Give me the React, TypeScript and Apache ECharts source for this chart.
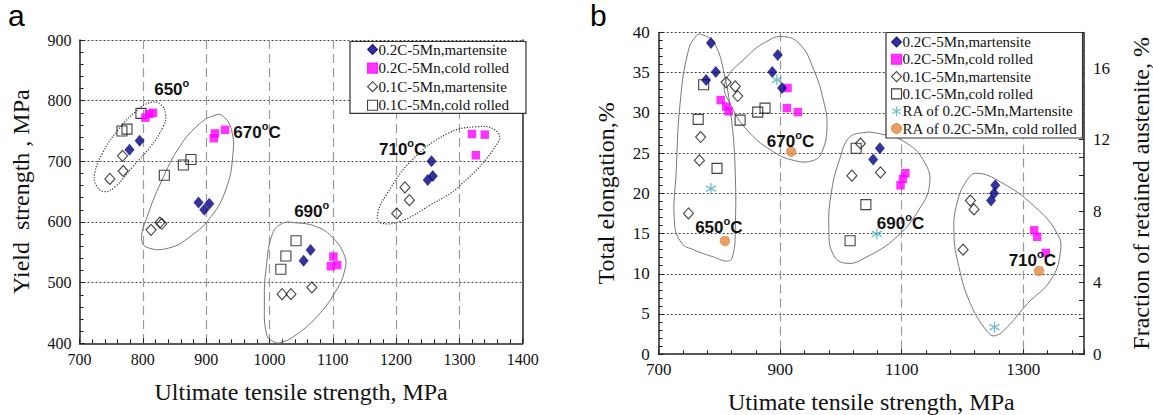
import React, { useEffect, useRef } from 'react';
import * as echarts from 'echarts';

const SERIF = 'Liberation Serif, Times New Roman, serif';
const SANS = 'Liberation Sans, Arial, sans-serif';

// ---------- Panel a: yield strength vs UTS ----------
const aMart02 = [[779, 719], [795, 734], [888, 632], [897, 620], [905, 630], [1054, 536], [1065, 554], [1256, 700], [1250, 669], [1258, 676]];
const aCold02 = [[804, 772], [810, 778], [816, 780], [912, 738], [914, 746], [930, 752], [1101, 543], [1097, 527], [1107, 529], [1320, 745], [1340, 744], [1326, 710]];
const aMart01 = [[748, 671], [769, 684], [768, 709], [813, 587], [827, 599], [830, 597], [1020, 481], [1034, 481], [1067, 492], [1214, 657], [1221, 636], [1201, 614]];
const aCold01 = [[797, 779], [767, 750], [775, 753], [834, 677], [864, 694], [876, 703], [1018, 522], [1026, 544], [1042, 569]];

// ---------- Panel b: elongation / retained austenite vs UTS ----------
const bMart02 = [[786, 38.7], [794, 35.1], [778, 34.1], [896, 37.2], [887, 35.1], [903, 33.1], [1064, 25.6], [1053, 24.2], [1254, 21.0], [1252, 20.0], [1247, 19.1]];
const bCold02 = [[802, 31.6], [811, 30.8], [815, 30.2], [912, 33.1], [911, 30.6], [929, 30.1], [1106, 22.5], [1102, 21.8], [1098, 21.0], [1318, 15.4], [1323, 14.6], [1337, 12.6]];
const bMart01 = [[811, 33.8], [826, 33.3], [830, 32.1], [769, 27.0], [767, 24.1], [749, 17.5], [1032, 26.2], [1018, 22.2], [1065, 22.6], [1213, 19.1], [1219, 18.0], [1201, 13.0]];
const bCold01 = [[774, 33.5], [765, 29.2], [796, 23.1], [834, 29.1], [863, 30.1], [875, 30.6], [1025, 25.6], [1041, 18.6], [1015, 14.1]];
const bRAMart = [[786, 9.27], [894.5, 15.35], [1059, 6.73], [1252.6, 1.51]];
const bRACold = [[809, 6.34], [918, 11.33], [1326, 4.66]];

// ---------- annotation outlines (data units) ----------
const loopA650 = [[812, 797], [828, 794], [836, 777], [832, 757], [812, 724], [784, 691], [756, 658], [739, 650], [726, 661], [724, 680], [736, 713], [761, 752], [790, 783]];
const loopA670 = [[914, 776], [926, 775], [940, 752], [942, 708], [931, 653], [908, 609], [875, 576], [841, 557], [807, 558], [798, 573], [807, 609], [829, 666], [858, 724], [891, 763]];
const loopA690 = [[1021, 598], [1038, 599], [1075, 592], [1101, 573], [1119, 543], [1119, 521], [1106, 488], [1075, 444], [1038, 411], [1017, 401], [1008, 402], [996, 413], [992, 471], [995, 526], [1005, 581]];
const loopA710 = [[1175, 599], [1206, 601], [1254, 628], [1301, 660], [1362, 733], [1356, 752], [1327, 757], [1282, 746], [1225, 702], [1186, 647], [1171, 614]];
const loopB650 = [[773, 39.7], [792, 38.6], [808, 34.8], [820, 29.1], [826, 22.5], [826, 15.4], [823, 12.6], [815, 11.6], [790, 12.1], [757, 13.0], [738, 13.8], [726, 16.3], [729, 23], [735, 31], [748, 37.5], [762, 39.6]];
const loopB670 = [[809, 33.7], [845, 37.0], [878, 38.9], [905, 39.5], [933, 38.5], [955, 35.4], [971, 31.6], [977, 28.3], [969, 25.2], [955, 24.1], [922, 24.1], [884, 25.4], [845, 27.9], [820, 30.8]];
const loopB690 = [[999, 24.5], [1012, 26.8], [1032, 27.5], [1065, 27.4], [1109, 26.2], [1138, 23.8], [1146, 21.2], [1131, 18.3], [1092, 14.6], [1040, 12.0], [1010, 11.3], [988, 12.3], [980, 15.5], [985, 20.5]];
const loopB710 = [[1224, 22.5], [1263, 21.4], [1318, 18.4], [1356, 15.0], [1361, 12.6], [1345, 9.2], [1307, 6.3], [1274, 3.4], [1254, 2.3], [1241, 2.8], [1213, 6.3], [1194, 10.9], [1186, 15.0], [1191, 18.8], [1208, 21.7]];

// temperature labels: [x, y, number, suffix]
const tempA: [number, number, string, string][] = [[818, 818, '650', ''], [943, 747, '670', 'C'], [1039, 617, '690', ''], [1173, 719, '710', 'C']];
const tempB: [number, number, string, string][] = [[760, 15.7, '650', 'C'], [878, 26.4, '670', 'C'], [1059, 16.3, '690', 'C'], [1276, 11.7, '710', 'C']];

const N_M02 = '0.2C-5Mn,martensite';
const N_C02 = '0.2C-5Mn,cold rolled';
const N_M01 = '0.1C-5Mn,martensite';
const N_C01 = '0.1C-5Mn,cold rolled';
const N_RAM = 'RA of 0.2C-5Mn,Martensite';
const N_RAC = 'RA of 0.2C-5Mn, cold rolled';

const ASTER = 'path://M0,0 L0,20 M-8.66,5 L8.66,15 M-8.66,15 L8.66,5';

const styles: Record<string, any> = {
  [N_M02]: { symbol: 'diamond', symbolSize: [10, 12], itemStyle: { color: '#000080', borderColor: '#000080', borderWidth: 0 } },
  [N_C02]: { symbol: 'rect', symbolSize: 8.5, itemStyle: { color: '#ff00ff', borderColor: '#ff00ff', borderWidth: 0 } },
  [N_M01]: { symbol: 'diamond', symbolSize: [10, 11], itemStyle: { color: 'rgba(0,0,0,0)', borderColor: '#111', borderWidth: 1.1 } },
  [N_C01]: { symbol: 'rect', symbolSize: 10, itemStyle: { color: 'rgba(0,0,0,0)', borderColor: '#111', borderWidth: 1.1 } },
  [N_RAM]: { symbol: ASTER, symbolSize: [10, 11], itemStyle: { color: 'rgba(0,0,0,0)', borderColor: '#4bacc6', borderWidth: 1.3 } },
  [N_RAC]: { symbol: 'circle', symbolSize: 10.5, itemStyle: { color: '#e0883e', borderColor: '#e0883e', borderWidth: 0 } },
};

function scatter(name: string, data: number[][], xi: number, yi: number) {
  return { type: 'scatter', name, data, xAxisIndex: xi, yAxisIndex: yi, z: 3, ...styles[name] };
}

function loop(points: number[][], xi: number, yi: number, dotted: boolean) {
  return {
    type: 'custom', xAxisIndex: xi, yAxisIndex: yi, silent: true, z: 1, clip: false,
    data: points,
    renderItem: (params: any, api: any) => {
      if (params.dataIndex !== 0) return null;
      const pts = points.map((p) => api.coord(p));
      return {
        type: 'polygon',
        shape: { points: pts, smooth: 0.45 },
        style: { fill: 'none', stroke: dotted ? '#333' : '#777', lineWidth: dotted ? 1.2 : 1, lineDash: dotted ? [1.2, 1.6] : null },
      };
    },
  };
}

function labels(items: [number, number, string, string][], xi: number, yi: number) {
  return {
    type: 'custom', xAxisIndex: xi, yAxisIndex: yi, silent: true, z: 4, clip: false,
    data: items.map((t) => [t[0], t[1]]),
    renderItem: (params: any, api: any) => {
      const t = items[params.dataIndex];
      const p = api.coord([t[0], t[1]]);
      return {
        type: 'text', x: p[0], y: p[1],
        style: {
          text: `{n|${t[2]}}{s|o}` + (t[3] ? `{n|${t[3]}}` : ''),
          align: 'left', verticalAlign: 'middle',
          rich: {
            n: { fontFamily: SANS, fontSize: 17, fontWeight: 'bold', fill: '#111', color: '#111', lineHeight: 22 },
            s: { fontFamily: SANS, fontSize: 11, fontWeight: 'bold', fill: '#111', color: '#111', lineHeight: 11, padding: [0, 0, 13, 0] },
          },
        },
      };
    },
  };
}

const AX = { color: '#222', width: 1.5 };
const tick = { show: true, inside: true, length: 5, lineStyle: { color: '#222', width: 1 } };
const minor = (n: number) => ({ show: true, splitNumber: n, length: 4, lineStyle: { color: '#222', width: 1 } });
const vSplit = { show: true, showMinLine: false, showMaxLine: false, lineStyle: { color: '#9a9a9a', type: [9, 5], width: 1.2 } };
const hSplit = { show: true, showMinLine: false, showMaxLine: true, lineStyle: { color: '#444', type: [2, 2], width: 1 } };
const plain = (v: number) => String(v);
const lbl = (fs: number, margin: number) => ({ fontFamily: SERIF, fontSize: fs, color: '#111', margin, formatter: plain });
const nameStyle = { fontFamily: SERIF, fontSize: 24, color: '#111' };

const legendCommon = {
  orient: 'vertical', itemWidth: 10, itemHeight: 10,
  borderColor: '#333', borderWidth: 1.2, backgroundColor: '#fff',
  textStyle: { fontFamily: SERIF, fontSize: 15, color: '#111', padding: [0, 0, 0, -4] },
  itemStyle: { borderWidth: 1.1 },
  selectedMode: false,
};

const option = {
  animation: false,
  backgroundColor: '#fff',
  textStyle: { fontFamily: SERIF },
  grid: [
    { left: 79.5, top: 40, width: 443.2, height: 303.3, containLabel: false, outerBoundsMode: 'none' },
    { left: 658.7, top: 32.5, width: 425.3, height: 321.7, containLabel: false, outerBoundsMode: 'none' },
  ],
  xAxis: [
    {
      gridIndex: 0, type: 'value', min: 700, max: 1400, interval: 100,
      axisLine: { show: true, onZero: false, lineStyle: AX }, axisTick: tick, minorTick: minor(5),
      axisLabel: lbl(16, 8), splitLine: vSplit,
      name: 'Ultimate tensile strength, MPa', nameLocation: 'middle', nameGap: 37, nameTextStyle: nameStyle,
    },
    {
      gridIndex: 1, type: 'value', min: 700, max: 1400, interval: 200,
      axisLine: { show: true, onZero: false, lineStyle: AX }, axisTick: tick, minorTick: minor(5),
      axisLabel: { ...lbl(17, 7), showMaxLabel: false }, splitLine: vSplit,
      name: 'Utimate tensile strength, MPa', nameLocation: 'middle', nameGap: 36, nameTextStyle: nameStyle,
    },
  ],
  yAxis: [
    {
      gridIndex: 0, type: 'value', min: 400, max: 900, interval: 100,
      axisLine: { show: true, onZero: false, lineStyle: AX }, axisTick: tick, minorTick: minor(5),
      axisLabel: lbl(16, 8), splitLine: hSplit,
      name: 'Yield  strength , MPa', nameLocation: 'middle', nameGap: 47, nameTextStyle: nameStyle,
    },
    {
      gridIndex: 0, type: 'value', position: 'right', min: 400, max: 900,
      axisLine: { show: true, onZero: false, lineStyle: AX }, axisTick: { show: false }, axisLabel: { show: false }, splitLine: { show: false },
    },
    {
      gridIndex: 1, type: 'value', min: 0, max: 40, interval: 5,
      axisLine: { show: true, onZero: false, lineStyle: AX }, axisTick: tick, minorTick: minor(5),
      axisLabel: lbl(17, 9), splitLine: hSplit,
      name: 'Total elongation,%', nameLocation: 'middle', nameGap: 41, nameTextStyle: nameStyle,
    },
    {
      gridIndex: 1, type: 'value', position: 'right', min: 0, max: 18, interval: 1,
      axisLine: { show: true, onZero: false, lineStyle: AX }, axisTick: tick,
      axisLabel: { ...lbl(17, 9), formatter: (v: number) => (v % 4 === 0 && v <= 16 ? String(v) : '') },
      splitLine: { show: false },
      name: 'Fraction of retained austenite, %', nameLocation: 'middle', nameGap: 45, nameRotate: 90, nameTextStyle: nameStyle,
    },
  ],
  legend: [
    { ...legendCommon, left: 350, top: 41.5, padding: [0.5, 17, 0.5, 17], itemGap: 3.6, data: [N_M02, N_C02, N_M01, N_C01] },
    { ...legendCommon, left: 886, top: 32.5, padding: [2, 5, 2, 5], itemGap: 2.3, data: [N_M02, N_C02, N_M01, N_C01, N_RAM, N_RAC] },
  ],
  graphic: [
    { type: 'text', left: 8, top: 0, style: { text: 'a', font: `30px ${SANS}`, fill: '#000' } },
    { type: 'text', left: 590, top: 0, style: { text: 'b', font: `30px ${SANS}`, fill: '#000' } },
  ],
  series: [
    loop(loopA650, 0, 0, true), loop(loopA670, 0, 0, false), loop(loopA690, 0, 0, false), loop(loopA710, 0, 0, true),
    loop(loopB650, 1, 2, false), loop(loopB670, 1, 2, false), loop(loopB690, 1, 2, false), loop(loopB710, 1, 2, false),
    scatter(N_M01, aMart01, 0, 0), scatter(N_C01, aCold01, 0, 0), scatter(N_C02, aCold02, 0, 0), scatter(N_M02, aMart02, 0, 0),
    scatter(N_M01, bMart01, 1, 2), scatter(N_C01, bCold01, 1, 2), scatter(N_C02, bCold02, 1, 2), scatter(N_M02, bMart02, 1, 2),
    scatter(N_RAM, bRAMart, 1, 3), scatter(N_RAC, bRACold, 1, 3),
    labels(tempA, 0, 0), labels(tempB, 1, 2),
  ],
};

export default function App() {
  const ref = useRef<HTMLDivElement>(null);
  useEffect(() => {
    const chart = echarts.init(ref.current!, null, { renderer: 'svg' });
    chart.setOption(option as any);
    return () => chart.dispose();
  }, []);
  return <div ref={ref} style={{ position: 'fixed', left: 0, top: 0, width: 1153, height: 415, background: '#fff' }} />;
}
